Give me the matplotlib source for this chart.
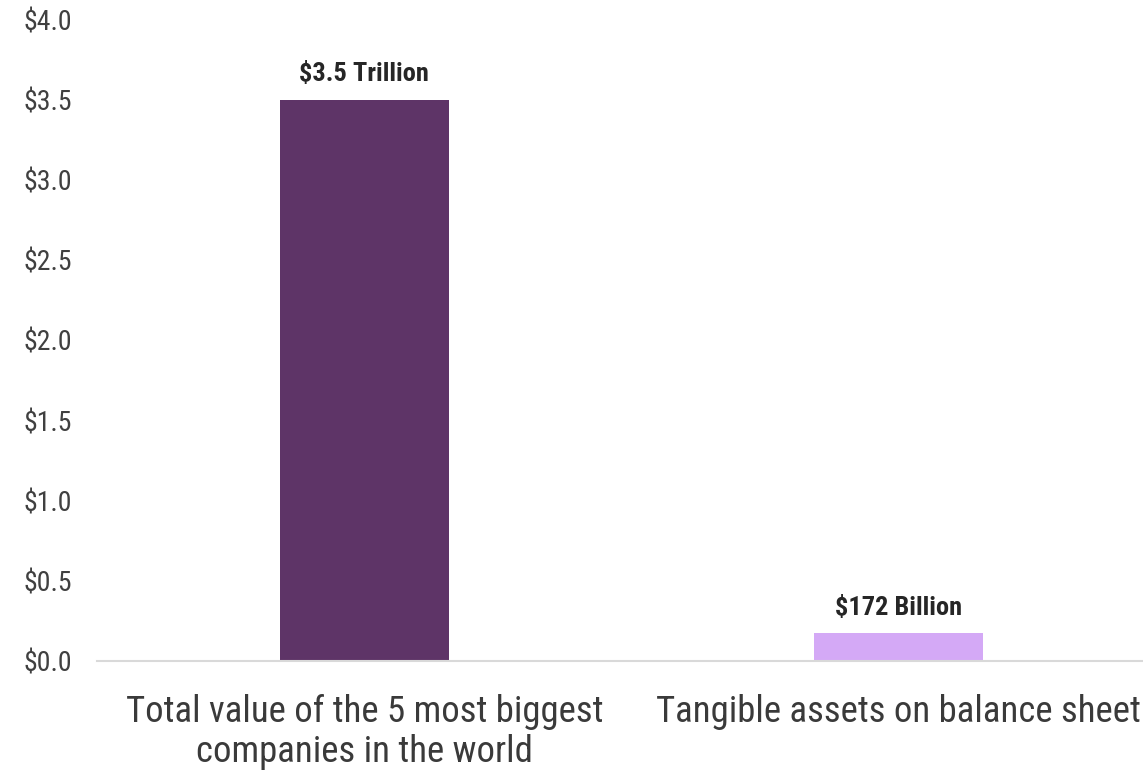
import numpy as np
import matplotlib.pyplot as plt
from matplotlib.ticker import FuncFormatter

# values in trillions of dollars
categories = ["Total value of the 5 most biggest\ncompanies in the world",
              "Tangible assets on balance sheet"]
values = [3.5, 0.172]
value_labels = ["$3.5 Trillion", "$172 Billion"]
bar_colors = ["#5e3467", "#d4a9f6"]

narrow = ["Roboto Condensed", "Liberation Sans Narrow", "Roboto", "DejaVu Sans"]

fig = plt.figure(figsize=(11.43, 7.71), dpi=100)
ax = fig.add_axes([0.0849, 0.1427, 0.9151, 0.8314])

x = np.arange(len(categories))
bars = ax.bar(x, values, width=0.316, color=bar_colors, zorder=2)

for b, lab in zip(bars, value_labels):
    ax.annotate(lab, (b.get_x() + b.get_width() / 2, b.get_height()),
                xytext=(0, 10), textcoords="offset points",
                ha="center", va="bottom", fontsize=19, fontweight="bold",
                color="#262626", family=narrow)

ax.set_xlim(-0.5, 1.457)
ax.set_ylim(0, 4.0)
ax.set_yticks(np.arange(0, 4.01, 0.5))
ax.yaxis.set_major_formatter(FuncFormatter(lambda v, p: f"${v:.1f}"))
ax.set_xticks(x)
ax.set_xticklabels(categories)

for lbl in ax.get_yticklabels():
    lbl.set_family(narrow)
    lbl.set_fontsize(20)
    lbl.set_color("#404040")
for lbl in ax.get_xticklabels():
    lbl.set_family(narrow)
    lbl.set_fontsize(26.5)
    lbl.set_color("#3a3a3a")
    lbl.set_linespacing(1.12)

ax.tick_params(axis="y", length=0, pad=18)
ax.tick_params(axis="x", length=0, pad=24)

for side in ["top", "right", "left"]:
    ax.spines[side].set_visible(False)
ax.spines["bottom"].set_color("#d9d9d9")
ax.spines["bottom"].set_linewidth(1.5)

fig.savefig("out.png", dpi=100)
